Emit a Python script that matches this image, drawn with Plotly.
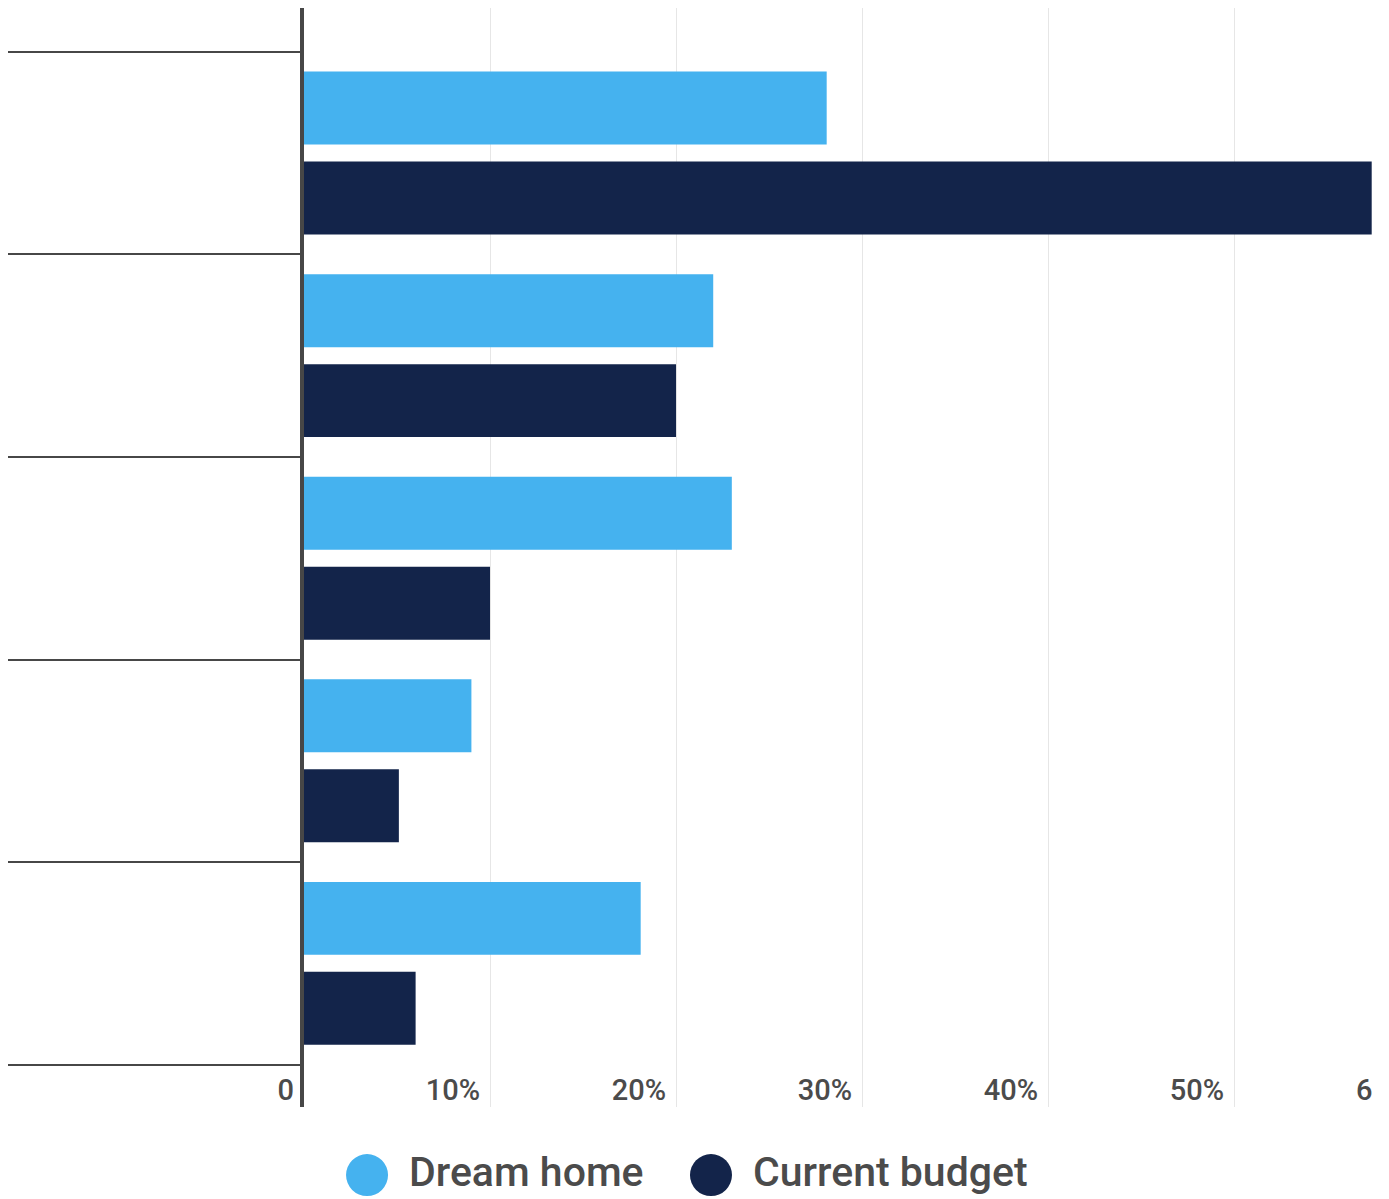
import plotly.graph_objects as go

# Survey groups (one row per group, drawn top to bottom)
group_index = [0, 1, 2, 3, 4]

series_names = ["Dream home", "Current budget"]
dream_home = [28.1, 22.0, 23.0, 9.0, 18.1]
current_budget = [57.4, 20.0, 10.0, 5.1, 6.0]
series_values = [dream_home, current_budget]
series_colors = ["#45b2ef", "#13244a"]

x_tick_values = [0, 10, 20, 30, 40, 50]
x_tick_labels = ["0", "10%", "20%", "30%", "40%", "50%"]

# boundaries between groups carry the long separator ticks
group_edges = [-0.5, 0.5, 1.5, 2.5, 3.5, 4.5]

FONT = "Roboto, 'Open Sans', sans-serif"
TEXT_COLOR = "#4b4b4b"
AXIS_COLOR = "#474747"

fig = go.Figure()
for name, vals, color in zip(series_names, series_values, series_colors):
    fig.add_trace(go.Bar(
        y=group_index,
        x=vals,
        name=name,
        orientation="h",
        marker=dict(color=color, line=dict(width=0)),
        showlegend=False,
        hoverinfo="x+name",
    ))

fig.update_layout(
    width=1389,
    height=1199,
    autosize=False,
    margin=dict(l=304, r=0, t=8, b=92, pad=0),
    paper_bgcolor="white",
    plot_bgcolor="white",
    barmode="group",
    bargap=0.112,
    bargroupgap=0.189,
    font=dict(family=FONT, color=TEXT_COLOR),
    showlegend=False,
)

fig.update_xaxes(
    range=[0, 58.33],
    tickvals=x_tick_values,
    ticktext=x_tick_labels,
    ticklabelposition="inside left",
    ticklabeloverflow="allow",
    ticklabelstandoff=-5,
    ticklabelshift=-10,
    ticks="",
    tickfont=dict(size=29, color=TEXT_COLOR, family=FONT, weight=500),
    showgrid=True,
    gridcolor="#e6e6e6",
    gridwidth=1,
    zeroline=False,
    showline=False,
    fixedrange=True,
)

fig.update_yaxes(
    range=[4.709, -0.716],
    tickvals=group_edges,
    showticklabels=False,
    ticks="outside",
    ticklen=292,
    tickwidth=2,
    tickcolor=AXIS_COLOR,
    showline=True,
    linewidth=4,
    linecolor=AXIS_COLOR,
    showgrid=False,
    zeroline=False,
    fixedrange=True,
)

# partially visible "60%" label at the right edge
fig.add_annotation(
    text="6", xref="paper", yref="paper", x=0.968, y=0.0155,
    xanchor="left", yanchor="middle", showarrow=False,
    font=dict(size=29, color=TEXT_COLOR, family=FONT, weight=500),
)

# legend with large round markers, built from the series lists
legend_x = [0.0581, 0.3751]
legend_y = -0.0619
for name, color, lx in zip(series_names, series_colors, legend_x):
    fig.add_shape(
        type="circle", xref="paper", yref="paper",
        xsizemode="pixel", ysizemode="pixel",
        xanchor=lx, yanchor=legend_y,
        x0=-21, x1=21, y0=-21, y1=21,
        fillcolor=color, line=dict(width=0),
    )
    fig.add_annotation(
        text=name, xref="paper", yref="paper",
        x=lx, xshift=40, y=legend_y, yshift=3,
        xanchor="left", yanchor="middle", showarrow=False,
        font=dict(size=41, color=TEXT_COLOR, family=FONT, weight=500),
    )

fig.write_html("out.html")
